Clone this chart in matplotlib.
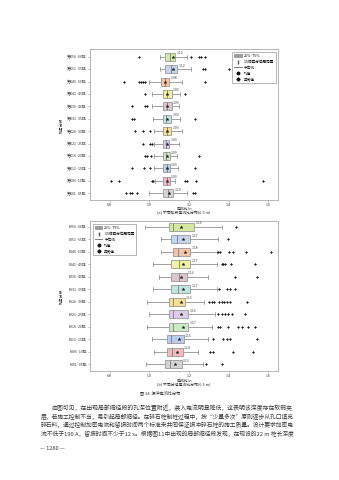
import matplotlib
matplotlib.use("Agg")
import matplotlib.pyplot as plt
from matplotlib.patches import Patch
from matplotlib.lines import Line2D

plt.rcParams["font.family"] = ["Noto Sans CJK SC", "DejaVu Sans"]
plt.rcParams["axes.unicode_minus"] = False

W, H = 339, 480

# (a) 排段电流比
labelsA = ["第K56~60排", "第K51~55排", "第K46~50排", "第K41~45排", "第K36~40排", "第K31~35排",
           "第K26~30排", "第K21~25排", "第K16~20排", "第K11~15排", "第K06~10排", "第K01~05排"]
q1A = [1.080, 1.080, 1.060, 1.070, 1.070, 1.070, 1.070, 1.070, 1.070, 1.070, 1.070, 1.070]
medA = [1.104, 1.109, 1.077, 1.087, 1.087, 1.084, 1.087, 1.084, 1.084, 1.087, 1.087, 1.095]
q3A = [1.132, 1.141, 1.100, 1.112, 1.112, 1.110, 1.110, 1.100, 1.104, 1.104, 1.104, 1.121]
loA = [1.053, 1.053, 0.999, 1.011, 1.011, 1.020, 1.023, 1.023, 1.023, 1.023, 1.030, 0.999]
hiA = [1.190, 1.210, 1.165, 1.155, 1.150, 1.155, 1.163, 1.148, 1.141, 1.146, 1.131, 1.188]
meanA = [1.12, 1.12, 1.08, 1.09, 1.09, 1.09, 1.09, 1.09, 1.09, 1.09, 1.09, 1.10]
outA = [
    [0.949, 1.212, 1.252, 1.260, 1.279],
    [1.272, 1.279, 1.401, 1.440],
    [0.871, 0.949, 0.959, 0.969, 0.979, 1.279],
    [0.980, 1.181],
    [0.913, 0.980, 0.987],
    [0.913, 0.921, 1.230],
    [0.928, 0.967, 1.001],
    [0.969, 1.004, 1.013],
    [0.978, 0.988, 1.008, 1.252],
    [0.910, 0.971, 1.002, 1.230],
    [0.807, 0.848, 1.011, 1.020, 1.178, 1.190, 1.238, 1.573],
    [0.884, 0.904, 0.911, 0.936, 1.218, 1.230],
]

# (b) 分组电流比
labelsB = ["E056~60排", "E051~55排", "E046~50排", "E041~45排", "E036~40排", "E031~35排",
           "E026~30排", "E021~25排", "E016~20排", "E011~15排", "E006~10排", "E001~05排"]
q1B = [1.099, 1.109, 1.117, 1.107, 1.109, 1.109, 1.099, 1.099, 1.099, 1.087, 1.087, 1.078]
medB = [1.117, 1.138, 1.146, 1.148, 1.148, 1.146, 1.121, 1.121, 1.117, 1.109, 1.113, 1.104]
q3B = [1.227, 1.207, 1.207, 1.207, 1.188, 1.207, 1.180, 1.197, 1.197, 1.175, 1.168, 1.163]
loB = [0.979, 1.058, 1.058, 1.019, 1.050, 1.019, 0.989, 0.999, 0.989, 1.011, 1.023, 0.982]
hiB = [1.365, 1.345, 1.340, 1.340, 1.298, 1.340, 1.276, 1.332, 1.315, 1.298, 1.247, 1.269]
meanB = [1.16, 1.17, 1.18, 1.17, 1.16, 1.17, 1.16, 1.16, 1.17, 1.15, 1.14, 1.13]
outB = [
    [1.436],
    [0.918, 1.396],
    [1.349, 1.357, 1.401, 1.424, 1.487, 1.614],
    [1.365, 1.374, 1.382, 1.414, 1.534],
    [1.435, 1.546],
    [1.352, 1.391, 1.408, 1.435],
    [1.303, 1.315, 1.327, 1.353, 1.366, 1.378, 1.391, 1.408, 1.492],
    [1.349, 1.366, 1.382, 1.399, 1.416, 1.484],
    [1.349, 1.357, 1.399, 1.450, 1.467, 1.500, 1.534],
    [1.320, 1.374, 1.391, 1.408, 1.546],
    [1.306, 1.323, 1.425, 1.526],
    [1.286, 1.365],
]

boxColors = ["#d4e7a4", "#c6d5ea", "#f4c4a8", "#eff1a6", "#d9c7cc", "#c0e5e1",
             "#f6dd9c", "#ddcce8", "#cce8c6", "#bacdea", "#f3bac6", "#d4d4d4"]
xTicks = [0.8, 1.0, 1.2, 1.4, 1.6]

para = [
    "由图可见，在出现局部缩径段的孔深位置附近，装入电流明显降低，这表明该深度存在软弱夹",
    "层，若施工控制不当，易引起局部缩径。在碎石桩制桩过程中，按“少量多次”原则逐步从孔口填充",
    "碎石料，通过控制加密电流和留振时间两个标准来共同保证振冲碎石桩的施工质量。设计要求加密电",
    "流不低于190 A，留振时间不少于12 s。根据图11中出现的局部缩径段发现，在现设的22 m 桩长深度",
]


def rect(x, y, w, h):
    return [x / W, 1 - (y + h) / H, w / W, h / H]


def drawPanel(ax, labels, q1, med, q3, lo, hi, mean, out, ylim):
    stats = []
    for i in range(len(labels)):
        stats.append(dict(q1=q1[i], med=med[i], q3=q3[i], whislo=lo[i], whishi=hi[i],
                          mean=mean[i], fliers=out[i], label=labels[i]))
    pos = list(range(len(labels)))
    bp = ax.bxp(stats, positions=pos, orientation="horizontal", widths=0.64,
                patch_artist=True, showmeans=True, capwidths=0.32,
                boxprops=dict(edgecolor="#8a8a8a", linewidth=0.5),
                medianprops=dict(color="#6a6a6a", linewidth=0.5),
                whiskerprops=dict(color="#a0a0a0", linewidth=0.7),
                capprops=dict(color="#8a8a8a", linewidth=0.5),
                meanprops=dict(marker="*", markersize=2.4, markerfacecolor="#222222",
                               markeredgecolor="#222222", markeredgewidth=0.2),
                flierprops=dict(marker="D", markersize=1.05, markerfacecolor="#1a1a1a",
                                markeredgecolor="#1a1a1a", markeredgewidth=0.3))
    for patch, c in zip(bp["boxes"], boxColors):
        patch.set_facecolor(c)
    for i in range(len(labels)):
        ax.text(q3[i] + 0.006, pos[i] - 0.12, f"{mean[i]:.2f}", fontsize=2.5,
                color="#444444", va="bottom", ha="left")
    ax.set_xlim(0.7, 1.65)
    ax.set_ylim(*ylim)
    ax.set_xticks(xTicks)
    ax.set_xticklabels([f"{t:.1f}" for t in xTicks])
    ax.tick_params(labelsize=2.6, length=1.5, width=0.4, color="#888888",
                   labelcolor="#333333", pad=1)
    for s in ax.spines.values():
        s.set_color("#aaaaaa")
        s.set_linewidth(0.6)


def addLegend(ax, loc, anchor):
    handles = [
        Patch(facecolor="#9c9c9c", edgecolor="#7a7a7a", linewidth=0.4),
        Line2D([], [], color="#555555", linestyle="none", marker="$\\mathrm{I}$", markersize=3),
        Line2D([], [], color="#666666", linewidth=0.6),
        Line2D([], [], color="#111111", linestyle="none", marker="o", markersize=1.8),
        Line2D([], [], color="#111111", linestyle="none", marker="D", markersize=1.6),
    ]
    names = ["25%~75%", "1.5倍四分位距范围", "中位线", "均值", "异常值"]
    leg = ax.legend(handles, names, loc=loc, bbox_to_anchor=anchor, fontsize=2.6,
                    fancybox=False, framealpha=1, edgecolor="#999999",
                    handlelength=2.2, handleheight=0.9, labelspacing=0.5,
                    borderpad=0.5, handletextpad=0.5)
    leg.get_frame().set_linewidth(0.5)


fig = plt.figure(figsize=(W / 100, H / 100), dpi=100)

axA = fig.add_axes(rect(90, 49, 188, 151))
drawPanel(axA, labelsA, q1A, medA, q3A, loA, hiA, meanA, outA, (11.54, -0.62))
addLegend(axA, "upper right", (1.0, 0.99))

axB = fig.add_axes(rect(90, 221, 188, 150))
drawPanel(axB, labelsB, q1B, medB, q3B, loB, hiB, meanB, outB, (11.56, -0.45))
addLegend(axB, "upper left", (0.005, 0.99))

txt = dict(color="#333333", ha="center", va="center")
fig.text(62 / W, 1 - 125 / H, "桩号分段", rotation=90, fontsize=2.8, **txt)
fig.text(62 / W, 1 - 296 / H, "桩号分段", rotation=90, fontsize=2.8, **txt)
fig.text(184 / W, 1 - 208.5 / H, "电流比/n", fontsize=2.8, **txt)
fig.text(184 / W, 1 - 213.5 / H, "(a) 不同排段电流比分布(0.5 m)", fontsize=2.8, **txt)
fig.text(184 / W, 1 - 380 / H, "电流比/n", fontsize=2.8, **txt)
fig.text(184 / W, 1 - 385 / H, "(b) 不同分组电流比分布(0.5 m)", fontsize=2.8, **txt)
fig.text(160 / W, 1 - 393 / H, "图 18  振冲电流比分布", fontsize=3.0, **txt)

# body text, each line stretched to the column width
renderer = fig.canvas.get_renderer()
lineY = [408, 416.5, 425, 433.5]
for i, line in enumerate(para):
    x0 = 51 if i == 0 else 41
    t = fig.text(x0 / W, 1 - lineY[i] / H, line, fontsize=4.2, color="#3a3a3a",
                 ha="left", va="center")
    w = t.get_window_extent(renderer).width
    t.set_fontsize(4.2 * (296 - x0) / w)

fig.text(40 / W, 1 - 448 / H, "— 1280 —", fontsize=4.0, color="#3a3a3a",
         ha="left", va="center")

fig.savefig("out.png", dpi=100)
plt.close(fig)
